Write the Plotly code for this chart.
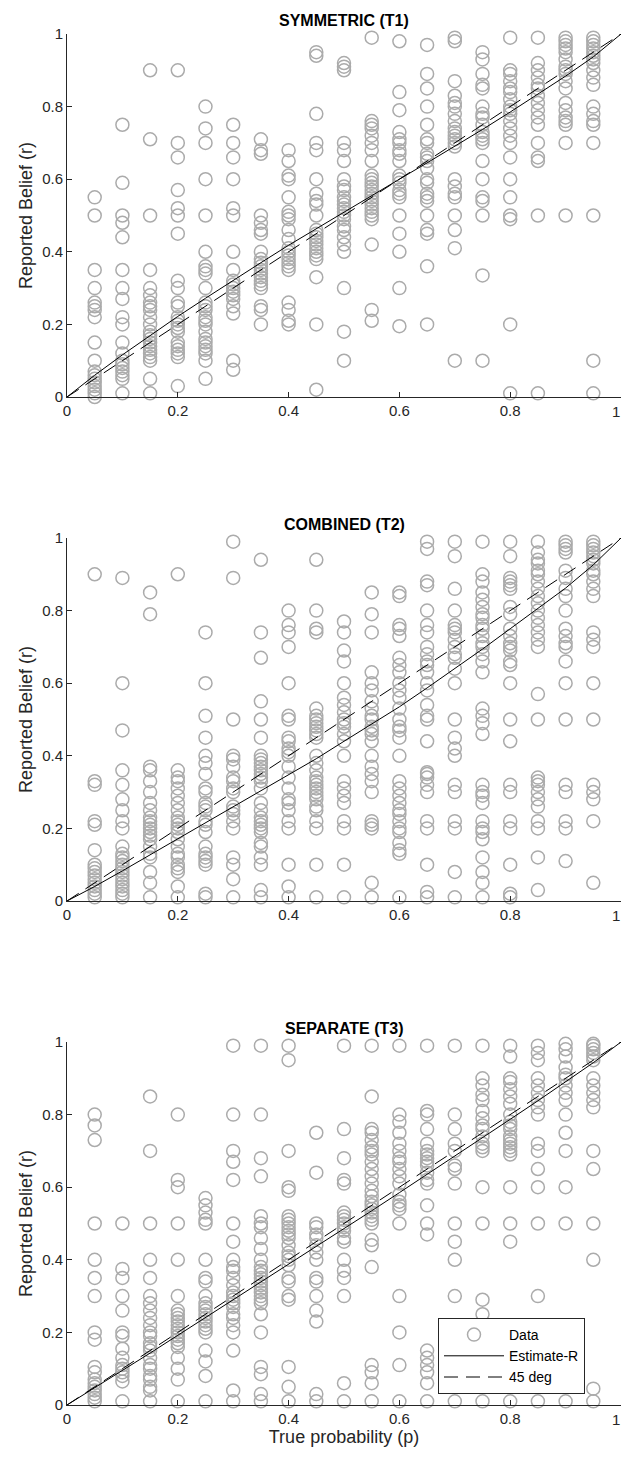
import plotly.graph_objects as go
from plotly.subplots import make_subplots

P_LEVELS = [0.05, 0.10, 0.15, 0.20, 0.25, 0.30, 0.35, 0.40, 0.45, 0.50,
            0.55, 0.60, 0.65, 0.70, 0.75, 0.80, 0.85, 0.90, 0.95]

PANEL_TITLES = ["SYMMETRIC (T1)", "COMBINED (T2)", "SEPARATE (T3)"]
TICK_VALS = [0, 0.2, 0.4, 0.6, 0.8, 1]
Y_TICK_TEXT = ["0", "0.2", "0.4", "0.6", "0.8", "1"]
X_TICK_TEXT = ["0", "0.2", "0.4", "0.6", "0.8", ""]   # last label drawn right-aligned below
X_END_LABEL = "1"

# Reported beliefs r for each true-probability level (one list per level)
T1_R = [
    [0.55, 0.50, 0.35, 0.30, 0.26, 0.25, 0.24, 0.22, 0.15, 0.10, 0.07, 0.06, 0.05, 0.04, 0.03, 0.02, 0.01, 0.0],
    [0.75, 0.59, 0.50, 0.48, 0.44, 0.35, 0.30, 0.27, 0.22, 0.20, 0.15, 0.12, 0.10, 0.09, 0.08, 0.07, 0.06, 0.05, 0.01],
    [0.90, 0.71, 0.50, 0.35, 0.30, 0.28, 0.26, 0.25, 0.24, 0.22, 0.20, 0.18, 0.17, 0.16, 0.15, 0.14, 0.13, 0.12, 0.11, 0.10, 0.05, 0.01],
    [0.90, 0.70, 0.66, 0.57, 0.52, 0.50, 0.45, 0.32, 0.30, 0.26, 0.25, 0.22, 0.21, 0.20, 0.19, 0.18, 0.15, 0.14, 0.13, 0.12, 0.11, 0.03],
    [0.80, 0.74, 0.70, 0.60, 0.50, 0.40, 0.36, 0.35, 0.34, 0.30, 0.26, 0.25, 0.24, 0.22, 0.21, 0.20, 0.18, 0.16, 0.15, 0.14, 0.13, 0.12, 0.10, 0.05],
    [0.75, 0.70, 0.66, 0.60, 0.52, 0.50, 0.40, 0.35, 0.32, 0.31, 0.30, 0.29, 0.28, 0.27, 0.25, 0.23, 0.10, 0.075],
    [0.71, 0.68, 0.67, 0.50, 0.48, 0.46, 0.45, 0.40, 0.38, 0.37, 0.36, 0.35, 0.34, 0.33, 0.32, 0.31, 0.30, 0.25, 0.24, 0.20],
    [0.68, 0.65, 0.61, 0.60, 0.55, 0.51, 0.50, 0.49, 0.46, 0.435, 0.41, 0.40, 0.39, 0.38, 0.37, 0.36, 0.35, 0.26, 0.24, 0.21, 0.20],
    [0.95, 0.94, 0.78, 0.70, 0.68, 0.60, 0.56, 0.54, 0.53, 0.50, 0.46, 0.45, 0.44, 0.43, 0.42, 0.41, 0.40, 0.39, 0.38, 0.33, 0.20, 0.02],
    [0.92, 0.91, 0.90, 0.70, 0.68, 0.65, 0.60, 0.58, 0.57, 0.55, 0.54, 0.53, 0.52, 0.51, 0.50, 0.49, 0.47, 0.46, 0.44, 0.42, 0.40, 0.30, 0.18, 0.10],
    [0.99, 0.76, 0.75, 0.74, 0.72, 0.70, 0.68, 0.65, 0.61, 0.60, 0.59, 0.58, 0.57, 0.56, 0.55, 0.54, 0.53, 0.52, 0.51, 0.50, 0.49, 0.42, 0.24, 0.21],
    [0.98, 0.84, 0.79, 0.73, 0.71, 0.70, 0.68, 0.67, 0.65, 0.61, 0.60, 0.59, 0.57, 0.56, 0.55, 0.50, 0.45, 0.40, 0.30, 0.195],
    [0.97, 0.89, 0.85, 0.80, 0.75, 0.71, 0.70, 0.67, 0.66, 0.65, 0.63, 0.60, 0.59, 0.56, 0.55, 0.54, 0.50, 0.46, 0.45, 0.36, 0.20],
    [0.99, 0.98, 0.87, 0.83, 0.81, 0.80, 0.78, 0.76, 0.74, 0.73, 0.72, 0.71, 0.70, 0.69, 0.60, 0.58, 0.56, 0.55, 0.50, 0.46, 0.41, 0.10],
    [0.95, 0.93, 0.89, 0.86, 0.85, 0.80, 0.78, 0.77, 0.75, 0.73, 0.72, 0.71, 0.70, 0.65, 0.60, 0.55, 0.54, 0.50, 0.335, 0.10],
    [0.99, 0.90, 0.89, 0.87, 0.85, 0.84, 0.82, 0.80, 0.79, 0.78, 0.76, 0.74, 0.72, 0.70, 0.66, 0.60, 0.55, 0.50, 0.49, 0.20, 0.01],
    [0.99, 0.92, 0.90, 0.88, 0.86, 0.85, 0.83, 0.81, 0.79, 0.77, 0.75, 0.70, 0.66, 0.65, 0.50, 0.01],
    [0.99, 0.98, 0.97, 0.96, 0.95, 0.93, 0.91, 0.90, 0.89, 0.87, 0.85, 0.81, 0.79, 0.77, 0.76, 0.75, 0.70, 0.50],
    [0.99, 0.98, 0.97, 0.96, 0.95, 0.94, 0.93, 0.92, 0.90, 0.88, 0.86, 0.80, 0.78, 0.76, 0.75, 0.70, 0.50, 0.10, 0.01],
]

T2_R = [
    [0.90, 0.33, 0.32, 0.22, 0.21, 0.14, 0.10, 0.09, 0.08, 0.07, 0.06, 0.05, 0.04, 0.03, 0.02, 0.01],
    [0.89, 0.60, 0.47, 0.36, 0.32, 0.28, 0.25, 0.22, 0.20, 0.15, 0.13, 0.12, 0.11, 0.10, 0.09, 0.08, 0.07, 0.06, 0.05, 0.04, 0.03, 0.02, 0.01],
    [0.85, 0.79, 0.37, 0.36, 0.33, 0.30, 0.27, 0.25, 0.23, 0.22, 0.21, 0.20, 0.19, 0.18, 0.17, 0.15, 0.13, 0.12, 0.08, 0.05, 0.01],
    [0.90, 0.36, 0.34, 0.33, 0.31, 0.29, 0.27, 0.25, 0.23, 0.22, 0.21, 0.20, 0.19, 0.17, 0.15, 0.13, 0.12, 0.10, 0.09, 0.08, 0.04, 0.01],
    [0.74, 0.60, 0.51, 0.45, 0.40, 0.38, 0.35, 0.31, 0.30, 0.27, 0.26, 0.25, 0.22, 0.21, 0.19, 0.15, 0.13, 0.12, 0.11, 0.10, 0.02, 0.01],
    [0.99, 0.89, 0.50, 0.40, 0.39, 0.37, 0.34, 0.33, 0.31, 0.30, 0.26, 0.25, 0.24, 0.22, 0.20, 0.12, 0.10, 0.06, 0.01],
    [0.94, 0.74, 0.67, 0.55, 0.50, 0.45, 0.40, 0.39, 0.38, 0.37, 0.36, 0.35, 0.34, 0.33, 0.31, 0.27, 0.25, 0.23, 0.22, 0.21, 0.20, 0.19, 0.16, 0.15, 0.12, 0.10, 0.03, 0.01],
    [0.80, 0.76, 0.74, 0.70, 0.60, 0.51, 0.50, 0.45, 0.44, 0.42, 0.41, 0.40, 0.37, 0.34, 0.31, 0.28, 0.27, 0.25, 0.22, 0.20, 0.10, 0.04, 0.01],
    [0.94, 0.80, 0.75, 0.74, 0.53, 0.51, 0.50, 0.49, 0.48, 0.47, 0.46, 0.45, 0.40, 0.38, 0.36, 0.34, 0.33, 0.32, 0.31, 0.30, 0.29, 0.28, 0.26, 0.25, 0.22, 0.20, 0.10, 0.01],
    [0.77, 0.74, 0.69, 0.66, 0.60, 0.56, 0.54, 0.52, 0.50, 0.49, 0.48, 0.46, 0.44, 0.40, 0.33, 0.31, 0.29, 0.27, 0.22, 0.20, 0.10, 0.01],
    [0.85, 0.79, 0.74, 0.63, 0.60, 0.58, 0.55, 0.53, 0.51, 0.50, 0.48, 0.47, 0.46, 0.44, 0.40, 0.37, 0.35, 0.33, 0.30, 0.22, 0.21, 0.20, 0.05, 0.01],
    [0.85, 0.84, 0.76, 0.75, 0.73, 0.67, 0.65, 0.63, 0.60, 0.58, 0.56, 0.53, 0.50, 0.48, 0.47, 0.45, 0.40, 0.33, 0.31, 0.29, 0.27, 0.25, 0.24, 0.22, 0.20, 0.19, 0.16, 0.14, 0.13, 0.01],
    [0.99, 0.97, 0.88, 0.87, 0.80, 0.76, 0.74, 0.70, 0.68, 0.66, 0.65, 0.63, 0.60, 0.58, 0.54, 0.51, 0.50, 0.44, 0.355, 0.35, 0.34, 0.32, 0.30, 0.22, 0.20, 0.10, 0.025, 0.01],
    [0.99, 0.95, 0.86, 0.80, 0.76, 0.75, 0.74, 0.72, 0.70, 0.68, 0.67, 0.64, 0.60, 0.50, 0.45, 0.42, 0.40, 0.32, 0.30, 0.22, 0.20, 0.08, 0.01],
    [0.99, 0.90, 0.88, 0.85, 0.83, 0.81, 0.79, 0.78, 0.76, 0.75, 0.73, 0.71, 0.70, 0.68, 0.66, 0.63, 0.53, 0.51, 0.49, 0.46, 0.32, 0.30, 0.29, 0.27, 0.22, 0.20, 0.19, 0.17, 0.12, 0.08, 0.05, 0.01],
    [0.99, 0.95, 0.89, 0.88, 0.87, 0.86, 0.81, 0.79, 0.75, 0.73, 0.71, 0.70, 0.69, 0.66, 0.65, 0.60, 0.50, 0.44, 0.32, 0.30, 0.22, 0.20, 0.10, 0.02, 0.01],
    [0.99, 0.96, 0.94, 0.93, 0.91, 0.90, 0.88, 0.86, 0.84, 0.82, 0.80, 0.78, 0.76, 0.74, 0.72, 0.70, 0.57, 0.50, 0.34, 0.33, 0.32, 0.30, 0.28, 0.26, 0.22, 0.20, 0.12, 0.03],
    [0.99, 0.98, 0.97, 0.96, 0.91, 0.89, 0.86, 0.84, 0.80, 0.75, 0.73, 0.71, 0.70, 0.66, 0.60, 0.50, 0.32, 0.30, 0.22, 0.20, 0.11],
    [0.99, 0.98, 0.97, 0.96, 0.95, 0.94, 0.93, 0.91, 0.90, 0.88, 0.86, 0.84, 0.74, 0.72, 0.70, 0.60, 0.50, 0.32, 0.30, 0.28, 0.22, 0.05],
]

T3_R = [
    [0.80, 0.77, 0.73, 0.50, 0.40, 0.35, 0.30, 0.20, 0.18, 0.105, 0.09, 0.07, 0.06, 0.05, 0.04, 0.03, 0.02, 0.01],
    [0.50, 0.375, 0.35, 0.30, 0.26, 0.20, 0.19, 0.155, 0.13, 0.11, 0.10, 0.09, 0.08, 0.065, 0.01],
    [0.85, 0.70, 0.50, 0.40, 0.35, 0.30, 0.28, 0.26, 0.24, 0.22, 0.20, 0.19, 0.17, 0.16, 0.15, 0.13, 0.11, 0.10, 0.08, 0.07, 0.05, 0.04, 0.01],
    [0.80, 0.62, 0.60, 0.50, 0.40, 0.30, 0.26, 0.25, 0.24, 0.23, 0.22, 0.21, 0.20, 0.19, 0.18, 0.17, 0.16, 0.13, 0.10, 0.07, 0.01],
    [0.57, 0.55, 0.53, 0.51, 0.50, 0.40, 0.35, 0.34, 0.30, 0.28, 0.27, 0.26, 0.25, 0.24, 0.23, 0.22, 0.21, 0.20, 0.15, 0.12, 0.08, 0.01],
    [0.99, 0.80, 0.70, 0.67, 0.62, 0.50, 0.45, 0.40, 0.38, 0.37, 0.35, 0.33, 0.31, 0.30, 0.29, 0.28, 0.27, 0.25, 0.24, 0.22, 0.20, 0.15, 0.04, 0.01],
    [0.99, 0.80, 0.68, 0.63, 0.52, 0.50, 0.49, 0.46, 0.43, 0.40, 0.38, 0.37, 0.36, 0.35, 0.34, 0.33, 0.32, 0.31, 0.30, 0.29, 0.28, 0.25, 0.20, 0.105, 0.085, 0.03, 0.01],
    [0.99, 0.95, 0.70, 0.60, 0.59, 0.52, 0.51, 0.50, 0.49, 0.48, 0.47, 0.46, 0.44, 0.42, 0.41, 0.40, 0.385, 0.35, 0.34, 0.30, 0.29, 0.105, 0.05, 0.01],
    [0.75, 0.64, 0.50, 0.49, 0.47, 0.46, 0.44, 0.42, 0.40, 0.35, 0.34, 0.30, 0.26, 0.23, 0.03, 0.01],
    [0.99, 0.76, 0.68, 0.62, 0.61, 0.53, 0.52, 0.51, 0.50, 0.49, 0.48, 0.46, 0.45, 0.40, 0.37, 0.35, 0.30, 0.06, 0.01],
    [0.99, 0.85, 0.76, 0.75, 0.73, 0.71, 0.70, 0.69, 0.67, 0.65, 0.63, 0.61, 0.59, 0.575, 0.56, 0.55, 0.54, 0.53, 0.52, 0.51, 0.50, 0.455, 0.44, 0.38, 0.11, 0.09, 0.06, 0.01],
    [0.99, 0.80, 0.78, 0.75, 0.72, 0.70, 0.68, 0.67, 0.65, 0.63, 0.61, 0.58, 0.56, 0.55, 0.54, 0.50, 0.30, 0.20, 0.11, 0.01],
    [0.99, 0.81, 0.80, 0.76, 0.72, 0.70, 0.69, 0.68, 0.67, 0.66, 0.64, 0.62, 0.61, 0.55, 0.50, 0.47, 0.15, 0.13, 0.11, 0.09, 0.06, 0.01],
    [0.99, 0.80, 0.76, 0.72, 0.70, 0.66, 0.65, 0.61, 0.50, 0.45, 0.40, 0.30, 0.01],
    [0.99, 0.90, 0.88, 0.855, 0.84, 0.81, 0.79, 0.77, 0.76, 0.74, 0.72, 0.71, 0.70, 0.60, 0.50, 0.29, 0.25, 0.01],
    [0.99, 0.96, 0.90, 0.89, 0.87, 0.85, 0.83, 0.80, 0.78, 0.77, 0.76, 0.74, 0.73, 0.72, 0.71, 0.70, 0.69, 0.60, 0.50, 0.45, 0.01],
    [0.99, 0.97, 0.95, 0.90, 0.88, 0.86, 0.84, 0.82, 0.80, 0.72, 0.70, 0.65, 0.60, 0.50, 0.30, 0.01],
    [0.995, 0.98, 0.96, 0.93, 0.91, 0.90, 0.88, 0.86, 0.84, 0.80, 0.75, 0.70, 0.60, 0.50, 0.01],
    [0.995, 0.99, 0.98, 0.97, 0.96, 0.95, 0.90, 0.88, 0.86, 0.84, 0.82, 0.70, 0.65, 0.50, 0.40, 0.045, 0.01],
]

# Estimated weighting curves
CURVE_P = [0, 0.05, 0.1, 0.15, 0.2, 0.25, 0.3, 0.35, 0.4, 0.45, 0.5,
           0.55, 0.6, 0.65, 0.7, 0.75, 0.8, 0.85, 0.9, 0.95, 1.0]
T1_EST = [0, 0.060, 0.116, 0.170, 0.222, 0.272, 0.322, 0.370, 0.418, 0.464, 0.510,
          0.555, 0.600, 0.645, 0.690, 0.737, 0.785, 0.834, 0.884, 0.937, 1.0]
T2_EST = [0, 0.040, 0.083, 0.127, 0.172, 0.215, 0.258, 0.302, 0.346, 0.392, 0.440,
          0.487, 0.535, 0.587, 0.640, 0.694, 0.750, 0.805, 0.862, 0.926, 1.0]
T3_EST = [0, 0.047, 0.095, 0.143, 0.192, 0.241, 0.290, 0.338, 0.386, 0.436, 0.486,
          0.535, 0.585, 0.635, 0.686, 0.736, 0.787, 0.838, 0.890, 0.943, 1.0]
DIAG_P = [0, 1]
DIAG_R = [0, 1]

PANELS = [(T1_R, T1_EST), (T2_R, T2_EST), (T3_R, T3_EST)]

FONT = "Liberation Sans, Arial, Helvetica, sans-serif"
AXIS_COLOR = "#262626"
MARKER_COLOR = "#ababab"

W, H = 622, 1457
ML, MR, MT, MB = 67, 1, 34, 52
plot_h = H - MT - MB
gap = 141

fig = make_subplots(rows=3, cols=1, vertical_spacing=gap / plot_h)

for i, (data, est) in enumerate(PANELS):
    row = i + 1
    xs, ys = [], []
    for p, vals in zip(P_LEVELS, data):
        xs.extend([p] * len(vals))
        ys.extend(vals)
    show = (row == 3)
    fig.add_trace(go.Scatter(
        x=xs, y=ys, mode="markers", name="Data", showlegend=show,
        cliponaxis=False,
        marker=dict(symbol="circle-open", size=13, color=MARKER_COLOR,
                    line=dict(width=1.5, color=MARKER_COLOR)),
    ), row=row, col=1)
    fig.add_trace(go.Scatter(
        x=CURVE_P, y=est, mode="lines", name="Estimate-R", showlegend=show,
        line=dict(color="black", width=1),
    ), row=row, col=1)
    fig.add_trace(go.Scatter(
        x=DIAG_P, y=DIAG_R, mode="lines", name="45 deg", showlegend=show,
        line=dict(color="black", width=1, dash="14px,8px"),
    ), row=row, col=1)

    xa = "xaxis" if row == 1 else f"xaxis{row}"
    ya = "yaxis" if row == 1 else f"yaxis{row}"
    fig.layout[xa].update(
        range=[0, 1], tickvals=TICK_VALS, ticktext=X_TICK_TEXT,
        ticks="inside", ticklen=5, tickwidth=1, tickcolor=AXIS_COLOR,
        showline=True, linecolor=AXIS_COLOR, linewidth=1, mirror=False,
        showgrid=False, zeroline=False,
        tickfont=dict(size=15, color=AXIS_COLOR, family=FONT),
    )
    fig.layout[ya].update(
        range=[0, 1], tickvals=TICK_VALS, ticktext=Y_TICK_TEXT,
        ticks="inside", ticklen=5, tickwidth=1, tickcolor=AXIS_COLOR,
        showline=True, linecolor=AXIS_COLOR, linewidth=1, mirror=False,
        showgrid=False, zeroline=False,
        tickfont=dict(size=15, color=AXIS_COLOR, family=FONT),
        title=dict(text="Reported Belief (r)", standoff=4,
                   font=dict(size=18, color=AXIS_COLOR, family=FONT)),
    )
    xref = "x domain" if row == 1 else f"x{row} domain"
    yref = "y domain" if row == 1 else f"y{row} domain"
    fig.add_annotation(
        text=f"<b>{PANEL_TITLES[i]}</b>", xref=xref, yref=yref,
        x=0.5, y=1, xanchor="center", yanchor="bottom", yshift=3,
        showarrow=False, font=dict(size=16, color="black", family=FONT),
    )
    # right-end x tick label, kept inside the page
    fig.add_annotation(
        text=X_END_LABEL, xref=xref, yref=yref,
        x=1, y=0, xanchor="right", yanchor="top", yshift=-4, xshift=1,
        showarrow=False, font=dict(size=15, color=AXIS_COLOR, family=FONT),
    )

fig.layout["xaxis3"].update(
    title=dict(text="True probability (p)", standoff=4,
               font=dict(size=18, color=AXIS_COLOR, family=FONT)))

fig.update_layout(
    width=W, height=H,
    margin=dict(l=ML, r=MR, t=MT, b=MB, autoexpand=False),
    paper_bgcolor="white", plot_bgcolor="white",
    font=dict(family=FONT, color=AXIS_COLOR),
    legend=dict(
        x=(438 - ML) / (W - ML - MR), y=87 / plot_h,
        xanchor="left", yanchor="top",
        bgcolor="white", bordercolor=AXIS_COLOR, borderwidth=1,
        font=dict(size=14, color="black", family=FONT),
        itemwidth=60, tracegroupgap=0,
        entrywidth=95, entrywidthmode="pixels",
    ),
)

fig.write_html("out.html", config={"displayModeBar": False},
               post_script="document.body.style.margin='0px';")
